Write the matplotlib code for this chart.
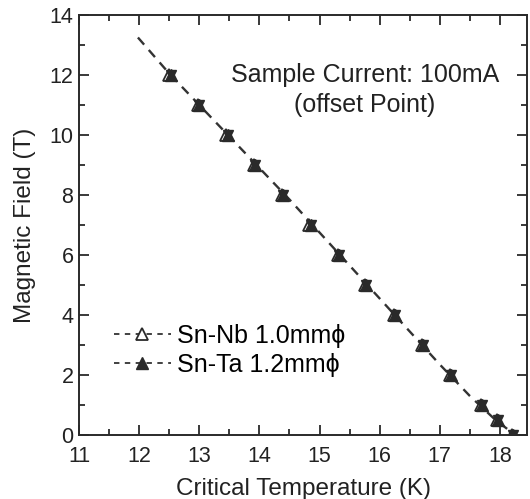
import matplotlib
matplotlib.use("Agg")
import matplotlib.pyplot as plt
from matplotlib.ticker import MultipleLocator

plt.rcParams['font.family'] = ['Liberation Sans', 'DejaVu Sans']

# data
field = [12, 11, 10, 9, 8, 7, 6, 5, 4, 3, 2, 1, 0.5, 0]
tc_nb = [12.50, 12.98, 13.45, 13.91, 14.37, 14.83, 15.30, 15.75, 16.23, 16.70, 17.17, 17.68, 17.95, 18.20]
tc_ta = [12.53, 13.00, 13.47, 13.93, 14.39, 14.85, 15.32, 15.77, 16.25, 16.72, 17.19, 17.70, 17.97, 18.22]
fit_t = [11.98, 12.50, 13.00, 13.50, 14.00, 14.50, 15.00, 15.50, 16.00, 16.50, 17.00, 17.50, 17.90, 18.25]
fit_b = [13.25, 12.05, 11.00, 9.95, 8.90, 7.85, 6.75, 5.65, 4.55, 3.45, 2.35, 1.30, 0.55, 0.0]

ink = '#2a2a2a'

fig = plt.figure(figsize=(5.3, 4.99), dpi=100)
ax = fig.add_axes([79/530, 1-435/499, (527-79)/530, (435-15)/499])

ax.plot(fit_t, fit_b, color='#333333', ls=(0, (4, 3)), lw=1.7, zorder=1)
ax.plot(tc_nb, field, ls='none', marker='^', ms=8, mfc='white', mec=ink, mew=1.3, zorder=2)
ax.plot(tc_ta, field, ls='none', marker='v', ms=7, color=ink, zorder=3)
ax.plot(tc_ta, field, ls='none', marker='^', ms=8, color=ink, zorder=3)

# legend proxies
ax.plot([], [], color='#333333', ls=(0, (3, 3)), lw=1.3, marker='^', ms=8,
        mfc='white', mec=ink, mew=1.3, label='Sn-Nb 1.0mm\u03d5')
ax.plot([], [], color='#333333', ls=(0, (3, 3)), lw=1.3, marker='^', ms=8,
        mfc=ink, mec=ink, label='Sn-Ta 1.2mm\u03d5')
ax.legend(loc='lower left', bbox_to_anchor=(0.055, 0.115), frameon=False, fontsize=18,
          handlelength=2.3, handletextpad=0.25, labelspacing=0.2, borderaxespad=0)

ax.text(15.75, 12.0, 'Sample Current: 100mA', fontsize=18, ha='center', va='center', color='#222222')
ax.text(15.75, 11.0, '(offset Point)', fontsize=18, ha='center', va='center', color='#222222')

ax.set_xlim(11, 18.45)
ax.set_ylim(0, 14)
ax.xaxis.set_major_locator(MultipleLocator(1))
ax.xaxis.set_minor_locator(MultipleLocator(0.5))
ax.yaxis.set_major_locator(MultipleLocator(2))
ax.yaxis.set_minor_locator(MultipleLocator(1))
ax.tick_params(which='both', direction='in', top=True, right=True, labelsize=15.5,
               width=1.3, color=ink, labelcolor='#222222')
ax.tick_params(which='major', length=7)
ax.tick_params(which='minor', length=4)
ax.tick_params(axis='x', pad=8)
ax.tick_params(axis='y', pad=4)
for s in ax.spines.values():
    s.set_linewidth(1.4)
    s.set_color(ink)

ax.set_xlabel('Critical Temperature (K)', fontsize=17.5, color='#222222', labelpad=8)
ax.set_ylabel('Magnetic Field (T)', fontsize=17.5, color='#222222', labelpad=10)

fig.savefig('out.png', dpi=100)
